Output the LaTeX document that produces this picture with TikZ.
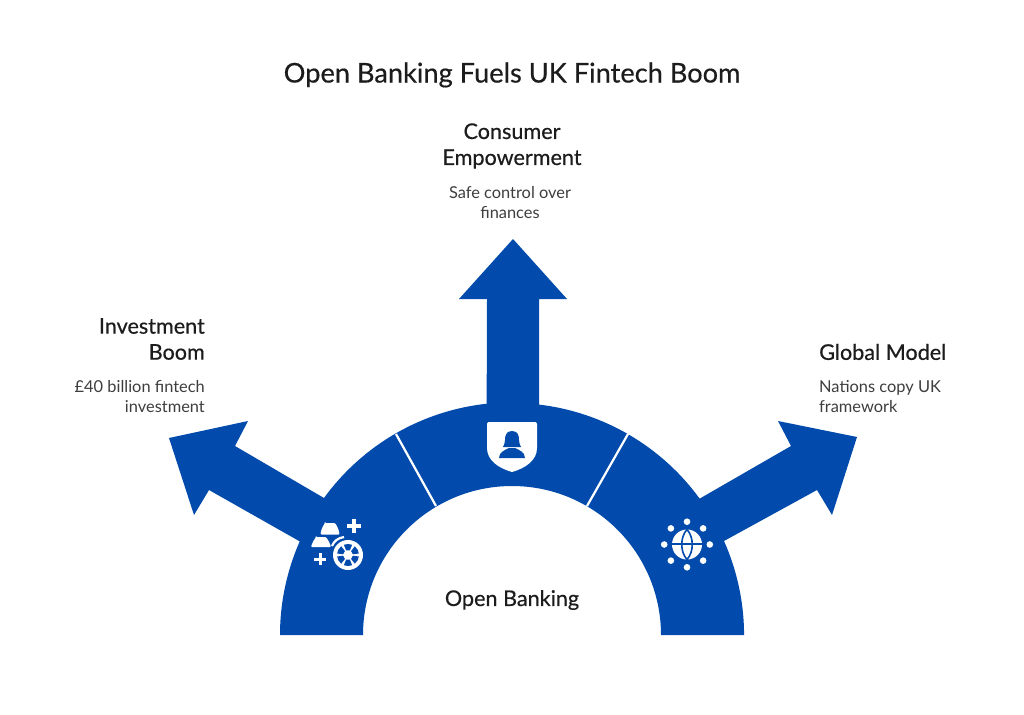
\documentclass[tikz,border=0pt]{standalone}
\usepackage{fontspec}
\setmainfont{Lato}
\definecolor{bankblue}{HTML}{024BAD}
\definecolor{inktext}{HTML}{1C1C1C}
\tikzset{
    head/.style={font=\fontsize{21.6}{26}\selectfont\addfontfeatures{FakeBold=0.4},text=inktext,align=center,inner sep=0pt},
    body/.style={font=\fontsize{16.4}{20}\selectfont,text=inktext!85,align=center,inner sep=0pt},
    icon/.style={fill=white,draw=none}
}
\begin{document}
\begin{tikzpicture}[x=1pt,y=-1pt]
\useasboundingbox (0,0) rectangle (1024,714);
\fill[white] (0,0) rectangle (1024,714);

% fan with three arrows
\fill[bankblue] (280,635) arc[start angle=180,end angle=203.8,radius=232]
  -- (209,490) -- (194,515) -- (169,438) -- (248,421) -- (235,446) -- (324,498)
  arc[start angle=216,end angle=263.8,radius=232] -- (487,299) -- (459,299) -- (513,239) -- (567,299) -- (539,299) -- (539,404.6)
  arc[start angle=276.7,end angle=324,radius=232]
  -- (791,446) -- (778,421) -- (857,437) -- (832,515) -- (817,490) -- (724,541)
  arc[start angle=336,end angle=360,radius=232] -- (744,635) -- (661,635)
  arc[start angle=360,end angle=180,radius=149] -- cycle;

% separators
\coordinate (sepa) at (396,434);
\coordinate (sepb) at (436,506);
\coordinate (sepc) at (628,434);
\coordinate (sepd) at (587,506);
\draw[white,line width=2.2pt] (sepa) -- (sepb);
\draw[white,line width=2.2pt] (sepc) -- (sepd);

% shield
\fill[icon] (489,422) -- (535,422) .. controls (536,422) and (537,423) .. (537,424) -- (537,448) .. controls (537,460) and (526,468) .. (512,472)
  .. controls (498,468) and (487,460) .. (487,448) -- (487,424) .. controls (487,423) and (488,422) .. (489,422) -- cycle;
\fill[bankblue] (512,431) .. controls (506,431) and (505,436) .. (505,440) .. controls (505,443) and (504,445) .. (503,447)
  -- (521,447) .. controls (520,445) and (519,443) .. (519,440) .. controls (519,436) and (518,431) .. (512,431) -- cycle;
\fill[bankblue] (499,458) .. controls (499,452) and (505,450) .. (509,448) -- (515,448) .. controls (519,450) and (525,452) .. (525,458) -- cycle;

% gold bars and coin
\fill[icon,rounded corners=1pt] (325,523) -- (335,523) .. controls (337,526) and (339,530) .. (339.5,534.5) -- (320.5,534.5) .. controls (321,530) and (323,526) .. (325,523) -- cycle;
\fill[icon,rounded corners=1pt] (316,537) -- (326,537) .. controls (328,540) and (330,543) .. (331,547) -- (311,547) .. controls (312,543) and (314,540) .. (316,537) -- cycle;
\fill[icon] (347,524.3) rectangle (361,527.7);
\fill[icon] (352.3,519) rectangle (355.7,533);
\fill[icon] (314,557.5) rectangle (326,560.5);
\fill[icon] (318.5,553) rectangle (321.5,565);
\draw[white,line width=2.2pt] (332,546) .. controls (334,541) and (338,538) .. (344,537);
\fill[icon] (348,555) circle[radius=15];
\begin{scope}[shift={(348,555)}]
\foreach \a in {0,60,...,300} {
  \fill[bankblue] (\a+8:5) arc[start angle=\a+8,end angle=\a+52,radius=5]
    -- (\a+52:11) arc[start angle=\a+52,end angle=\a+8,radius=11] -- cycle;
}
\end{scope}

% globe
\fill[icon] (687,544.5) circle[radius=15];
\draw[bankblue,line width=2pt] (672,544) -- (702,544);
\draw[bankblue,line width=1.6pt] (687,529.5) .. controls (680,537) and (680,552) .. (687,559.5);
\draw[bankblue,line width=1.6pt] (687,529.5) .. controls (694,537) and (694,552) .. (687,559.5);
\foreach \a in {0,45,...,315} {
  \fill[icon] (687,544.5) ++(\a:22.8) circle[radius=3.3];
}

% labels
\node[font=\fontsize{27.2}{32}\selectfont\addfontfeatures{FakeBold=0.4},text=inktext] (title) at (512,75) {Open Banking Fuels UK Fintech Boom};
\node[head] (consumer) at (512,146) {Consumer\\Empowerment};
\node[body] (consumertext) at (510,203) {Safe control over\\finances};
\node[head,align=right,anchor=east] (invest) at (205,339) {Investment\\Boom};
\node[body,align=right,anchor=east] (investtext) at (205,397) {£40 billion fintech\\investment};
\node[head,align=left,anchor=west] (globalm) at (819,352) {Global Model};
\node[body,align=left,anchor=west] (globaltext) at (819,397) {Nations copy UK\\framework};
\node[head] (core) at (512,600) {Open Banking};
\end{tikzpicture}
\end{document}
